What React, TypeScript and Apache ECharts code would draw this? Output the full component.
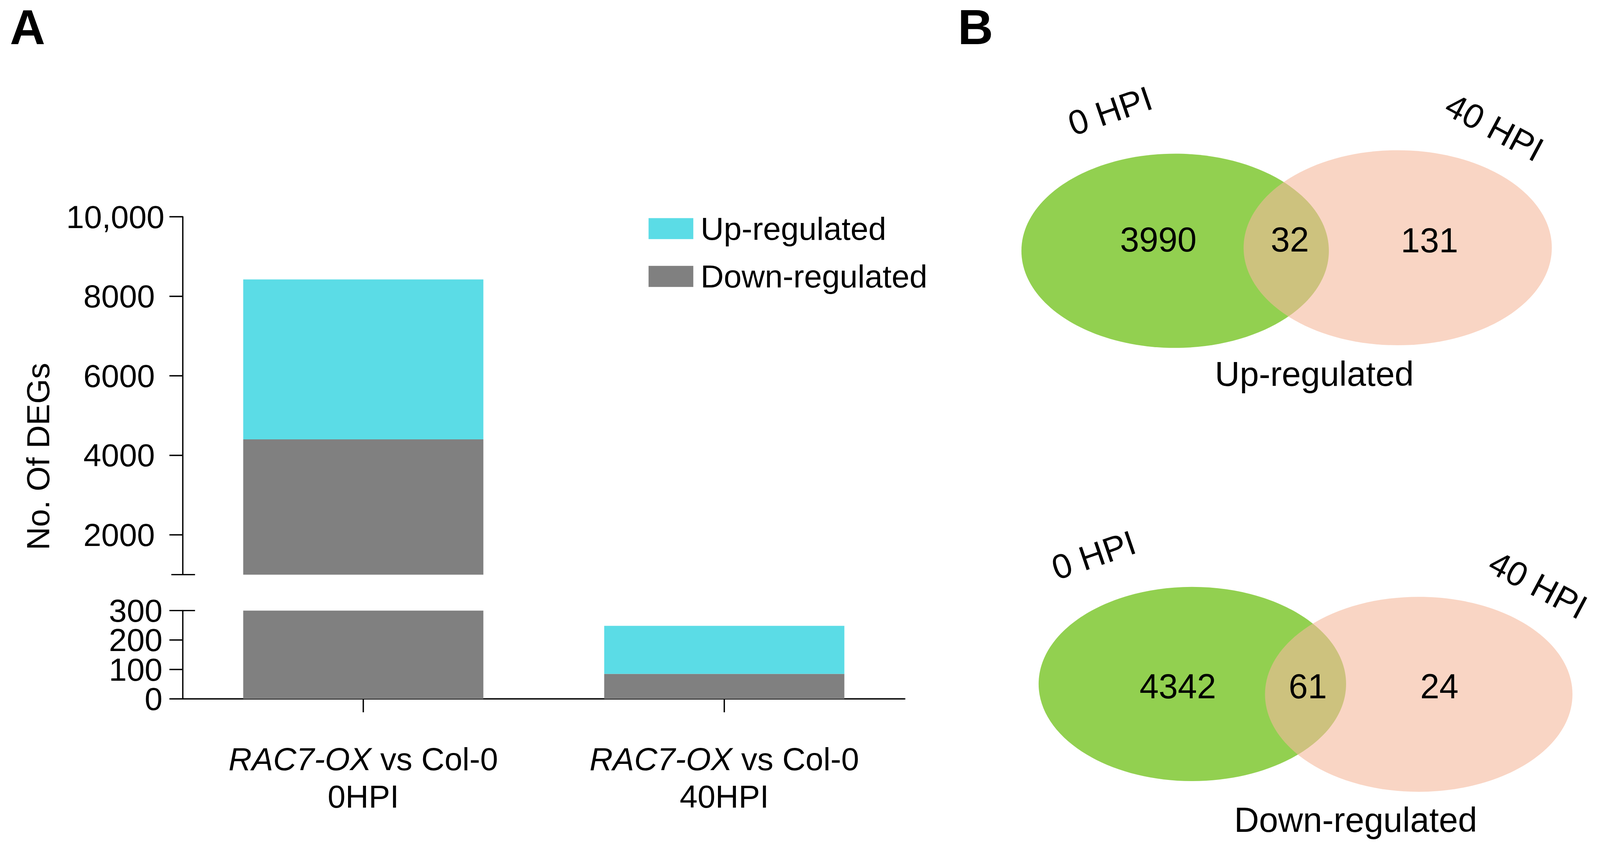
import React, { useEffect, useRef } from 'react';
import * as echarts from 'echarts';

// ---------------- data ----------------
const categories = ['RAC7-OX vs Col-0\n0HPI', 'RAC7-OX vs Col-0\n40HPI'];
const upRegulated = [4022, 163];
const downRegulated = [4403, 85];
const seriesNames = ['Up-regulated', 'Down-regulated'];
const upperTicks = [2000, 4000, 6000, 8000, 10000];
const lowerTicks = [0, 100, 200, 300];
const UPPER_MIN = 1000;
const UPPER_MAX = 10000;
const LOWER_MAX = 300;
const LOWER_INTERVAL = 100;
const yAxisTitle = 'No. Of DEGs';

const vennSetNames = ['0 HPI', '40 HPI'];
const vennTitles = ['Up-regulated', 'Down-regulated'];
const vennUpCounts = [3990, 32, 131]; // only 0 HPI, both, only 40 HPI
const vennDownCounts = [4342, 61, 24];

// ---------------- styles ----------------
const W = 4184;
const H = 2220;
const FONT = '"Liberation Sans", Arial, Helvetica, sans-serif';
const FS = 84;
const CYAN = '#5BDCE6';
const GREY = '#808080';
const GREEN = '#92D050';
const PINK = 'rgba(245,185,157,0.6)';
const LW = 3.5;

const G_LEFT = 478;
const G_WIDTH = 1888;
const UP_TOP = 567;
const UP_H = 936;
const LO_TOP = 1597;
const LO_H = 231;

const fmtNum = (v: number) =>
  v >= 10000 ? String(v).replace(/\B(?=(\d{3})+(?!\d))/g, ',') : String(v);

const upperLabel = (v: number) => (v >= 10000 ? `{w|${fmtNum(v)}}` : `{p|${fmtNum(v)}}`);

const catLabel = (val: string) => {
  const [l1, l2] = val.split('\n');
  const m = l1.match(/^(\S+)(.*)$/);
  const a = m ? m[1] : l1;
  const b = m ? m[2] : '';
  return `{i|${a}}{n|${b}}\n{n|${l2}}`;
};

const axisLineStyle = { color: '#000', width: LW };

const vennPanels = [
  {
    counts: vennUpCounts,
    green: { cx: 3073, cy: 656, rx: 402, ry: 254 },
    pink: { cx: 3655, cy: 648, rx: 403, ry: 255 },
    numPos: [[3029, 627], [3373, 627], [3738, 629]],
    setPos: [[2903, 290, 0.33], [3908, 333, -0.49]],
    titlePos: [3437, 978],
    title: vennTitles[0],
  },
  {
    counts: vennDownCounts,
    green: { cx: 3118, cy: 1789, rx: 402, ry: 254 },
    pink: { cx: 3710, cy: 1816, rx: 402, ry: 255 },
    numPos: [[3080, 1795], [3420, 1795], [3764, 1795]],
    setPos: [[2860, 1452, 0.33], [4022, 1530, -0.49]],
    titlePos: [3545, 2145],
    title: vennTitles[1],
  },
];

function buildGraphic() {
  const els: any[] = [];
  const txt = (text: string, x: number, y: number, size: number, extra: any = {}) => ({
    type: 'text',
    x,
    y,
    rotation: extra.rotation || 0,
    style: {
      text,
      fill: '#000',
      fontSize: size,
      fontFamily: FONT,
      fontWeight: extra.bold ? 'bold' : 'normal',
      align: 'center',
      verticalAlign: 'middle',
    },
    silent: true,
  });
  // panel labels
  els.push(txt('A', 72, 71, 128, { bold: true }));
  els.push(txt('B', 2551, 71, 128, { bold: true }));
  // y axis title
  els.push(txt(yAxisTitle, 100, 1194, FS, { rotation: Math.PI / 2 }));
  // axis break marks
  els.push({
    type: 'line',
    shape: { x1: 448, y1: UP_TOP + UP_H, x2: 510, y2: UP_TOP + UP_H },
    style: { stroke: '#000', lineWidth: LW },
    silent: true,
  });
  els.push({
    type: 'line',
    shape: { x1: G_LEFT, y1: LO_TOP, x2: 510, y2: LO_TOP },
    style: { stroke: '#000', lineWidth: LW },
    silent: true,
  });
  // venn diagrams
  vennPanels.forEach((p) => {
    els.push({ type: 'ellipse', shape: p.green, style: { fill: GREEN }, silent: true });
    els.push({ type: 'ellipse', shape: p.pink, style: { fill: PINK }, silent: true });
    p.counts.forEach((c, i) => {
      els.push(txt(String(c), p.numPos[i][0], p.numPos[i][1], 90));
    });
    vennSetNames.forEach((n, i) => {
      els.push(txt(n, p.setPos[i][0], p.setPos[i][1], 90, { rotation: p.setPos[i][2] }));
    });
    els.push(txt(p.title, p.titlePos[0], p.titlePos[1], 90));
  });
  return els;
}

const totals = upRegulated.map((u, i) => u + downRegulated[i]);
const upperDown = downRegulated.map((v, i) => (totals[i] > UPPER_MIN ? v : '-'));
const upperUp = upRegulated.map((v, i) => (totals[i] > UPPER_MIN ? v : '-'));

const lowerLabelCommon = {
  formatter: (v: number) => fmtNum(v),
  margin: 53,
  fontSize: FS,
  fontFamily: FONT,
  color: '#000',
  showMinLabel: true,
  showMaxLabel: true,
  hideOverlap: false,
};

const option: any = {
  animation: false,
  backgroundColor: '#fff',
  textStyle: { fontFamily: FONT },
  legend: {
    data: [seriesNames[0], seriesNames[1]],
    orient: 'vertical',
    left: 1691,
    top: 551,
    itemWidth: 117,
    itemHeight: 55,
    itemGap: 41,
    icon: 'rect',
    selectedMode: false,
    textStyle: { fontSize: FS, lineHeight: FS, color: '#000', fontFamily: FONT, padding: [0, 0, 0, 14] },
  },
  grid: [
    { left: G_LEFT, top: UP_TOP, width: G_WIDTH, height: UP_H, outerBoundsMode: 'none', containLabel: false },
    { left: G_LEFT, top: LO_TOP, width: G_WIDTH, height: LO_H, outerBoundsMode: 'none', containLabel: false },
  ],
  xAxis: [
    { type: 'category', gridIndex: 0, data: categories, show: false },
    {
      type: 'category',
      gridIndex: 1,
      data: categories,
      axisLine: { show: true, lineStyle: axisLineStyle },
      axisTick: { show: true, alignWithLabel: true, length: 35, lineStyle: axisLineStyle },
      splitLine: { show: false },
      axisLabel: {
        margin: 108,
        formatter: catLabel,
        color: '#000',
        rich: {
          i: { fontStyle: 'italic', fontSize: FS, lineHeight: 98, fontFamily: FONT, color: '#000' },
          n: { fontSize: FS, lineHeight: 98, fontFamily: FONT, color: '#000' },
        },
      },
    },
  ],
  yAxis: [
    {
      type: 'value',
      gridIndex: 0,
      min: UPPER_MIN,
      max: UPPER_MAX,
      splitLine: { show: false },
      axisLine: { show: true, lineStyle: axisLineStyle },
      axisTick: { show: true, length: 35, lineStyle: axisLineStyle, customValues: upperTicks },
      axisLabel: {
        customValues: upperTicks,
        formatter: upperLabel,
        margin: 48,
        fontSize: FS,
        fontFamily: FONT,
        color: '#000',
        showMinLabel: true,
        showMaxLabel: true,
        rich: {
          w: { fontSize: FS, fontFamily: FONT, color: '#000' },
          p: { fontSize: FS, fontFamily: FONT, color: '#000', padding: [0, 25, 0, 0] },
        },
      },
    },
    {
      type: 'value',
      gridIndex: 1,
      position: 'left',
      min: 0,
      max: LOWER_MAX,
      interval: LOWER_INTERVAL,
      splitLine: { show: false },
      axisLine: { show: true, lineStyle: axisLineStyle },
      axisTick: { show: true, length: 35, lineStyle: axisLineStyle },
      axisLabel: { ...lowerLabelCommon, customValues: lowerTicks.filter((_, i) => i % 2 === 0) },
    },
    {
      type: 'value',
      gridIndex: 1,
      position: 'left',
      offset: 0,
      min: 0,
      max: LOWER_MAX,
      interval: LOWER_INTERVAL,
      splitLine: { show: false },
      axisLine: { show: false },
      axisTick: { show: false },
      axisLabel: { ...lowerLabelCommon, customValues: lowerTicks.filter((_, i) => i % 2 === 1) },
    },
  ],
  series: [
    {
      name: seriesNames[1], type: 'bar', xAxisIndex: 0, yAxisIndex: 0, stack: 'upper',
      data: upperDown, barWidth: 628, itemStyle: { color: GREY }, clip: true,
    },
    {
      name: seriesNames[0], type: 'bar', xAxisIndex: 0, yAxisIndex: 0, stack: 'upper',
      data: upperUp, barWidth: 628, itemStyle: { color: CYAN }, clip: true,
    },
    {
      name: seriesNames[1], type: 'bar', xAxisIndex: 1, yAxisIndex: 1, stack: 'lower',
      data: downRegulated, barWidth: 628, itemStyle: { color: GREY }, clip: true,
    },
    {
      name: seriesNames[0], type: 'bar', xAxisIndex: 1, yAxisIndex: 1, stack: 'lower',
      data: upRegulated, barWidth: 628, itemStyle: { color: CYAN }, clip: true,
    },
  ],
  graphic: buildGraphic(),
};

export default function App() {
  const ref = useRef<HTMLDivElement>(null);
  useEffect(() => {
    document.body.style.margin = '0';
    document.body.style.overflow = 'hidden';
    const el = ref.current as HTMLDivElement;
    const s = Math.min(window.innerWidth / W, window.innerHeight / H);
    if (s > 0 && Math.abs(s - 1) > 0.001) {
      el.style.transformOrigin = '0 0';
      el.style.transform = `scale(${s})`;
    }
    const chart = echarts.init(el, null, { renderer: 'svg' });
    chart.setOption(option);
    return () => chart.dispose();
  }, []);
  return <div ref={ref} style={{ width: W, height: H, background: '#fff' }} />;
}
